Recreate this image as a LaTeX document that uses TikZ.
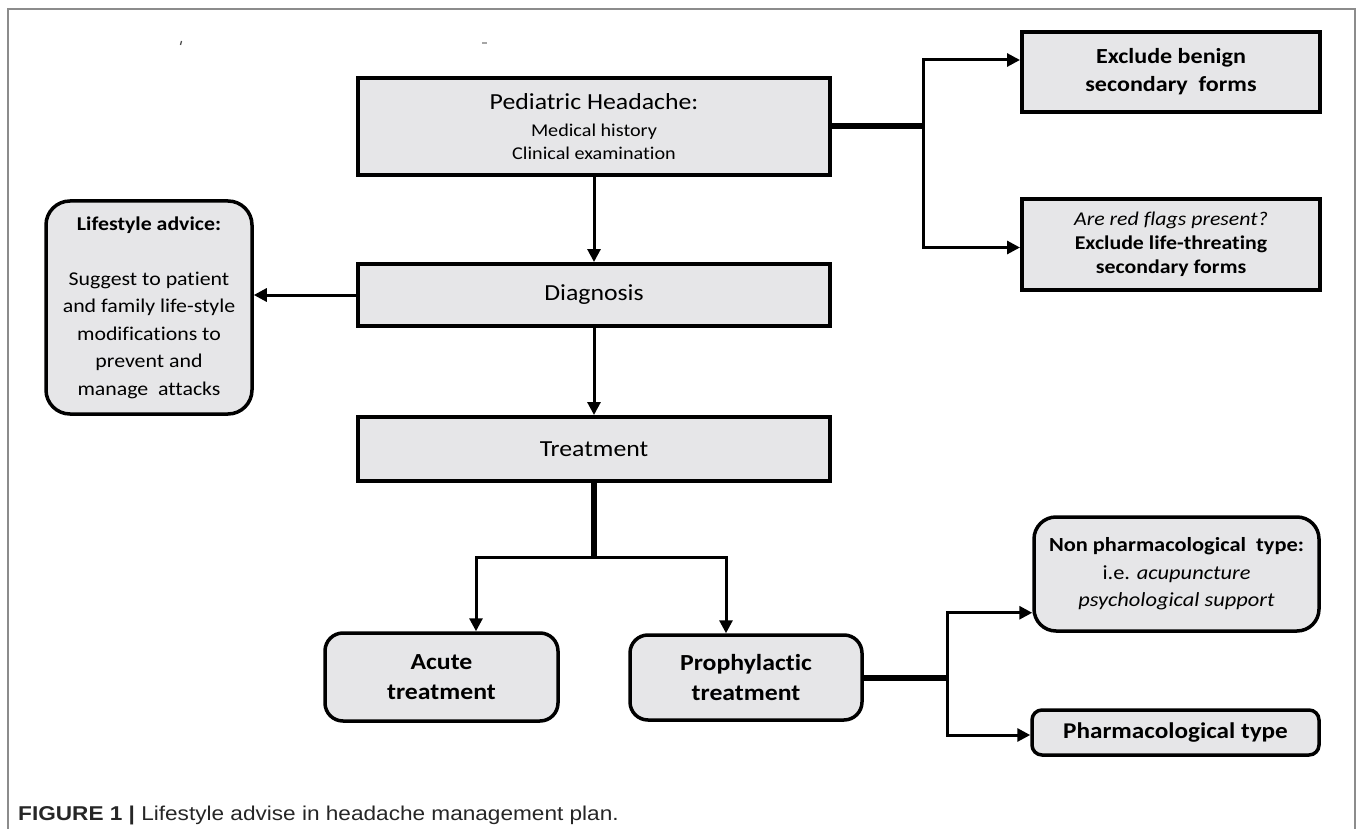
\documentclass[tikz,border=0pt]{standalone}
\usepackage{fontspec}
\setmainfont{Carlito}[FakeStretch=1.12, Ligatures={NoCommon}, RawFeature={-liga}]
\newfontfamily\capfont{Liberation Sans}[FakeStretch=1.13]
\usetikzlibrary{arrows.meta,calc}
\definecolor{boxfill}{RGB}{230,230,232}
\definecolor{framegray}{RGB}{140,140,140}
\tikzset{
  sqbox/.style={draw=black, line width=4pt, fill=boxfill, inner sep=0pt, align=center},
  rbox/.style={draw=black, line width=3.5pt, fill=boxfill, inner sep=0pt, align=center},
  conn/.style={draw=black, line width=3pt, -{Triangle[length=13pt,width=13pt]}},
  heavy/.style={draw=black, line width=6pt},
  fr/.style={draw=framegray, line width=1.5pt}
}
\begin{document}
\begin{tikzpicture}[x=1pt,y=-1pt]
\fill[white] (0,0) rectangle (1357,829);
\useasboundingbox (0,0) rectangle (1357,829);
% frame and stray marks
\draw[fr] (8,829) -- (8,9) -- (1355,9) -- (1355,829);
\draw[line width=1.3pt, black!70] (181.5,41) -- (180.5,45);
\draw[line width=1.2pt, black!35] (482,43) -- (487,43);

% boxes
\node[sqbox, minimum width=472pt, minimum height=97pt, font=\fontsize{18}{23}\selectfont] (ped) at (594,126.5)
  {{\fontsize{23}{27}\selectfont Pediatric Headache:}\\[4.5pt] Medical history\\ Clinical examination};
\node[sqbox, minimum width=472pt, minimum height=62pt, font=\fontsize{23}{27}\selectfont] (diag) at (594,295) {Diagnosis};
\node[sqbox, minimum width=472pt, minimum height=64pt, font=\fontsize{23}{27}\selectfont] (treat) at (594,449) {Treatment};
\node[rbox, rounded corners=24pt, minimum width=206pt, minimum height=213pt, font=\fontsize{19.5}{27.5}\selectfont] (life) at (149,307.5)
  {\textbf{Lifestyle advice:}\\[27.5pt] Suggest to patient\\ and family life-style\\ modifications to\\ prevent and\\ manage~ attacks};
\node[sqbox, minimum width=298pt, minimum height=80pt, font=\fontsize{21.5}{28}\selectfont\bfseries] (benign) at (1171,72)
  {Exclude benign\\ secondary~ forms};
\node[sqbox, minimum width=298pt, minimum height=91pt, font=\fontsize{19.5}{24}\selectfont] (redflag) at (1171,244.5)
  {\textit{Are red flags present?}\\ \textbf{Exclude life-threating}\\ \textbf{secondary forms}};
\node[rbox, rounded corners=18pt, minimum width=233pt, minimum height=88pt, font=\fontsize{23}{30}\selectfont\bfseries] (acute) at (441.5,677)
  {Acute\\ treatment};
\node[rbox, rounded corners=18pt, minimum width=232pt, minimum height=85pt, font=\fontsize{23}{30}\selectfont\bfseries] (proph) at (746,677.5)
  {Prophylactic\\ treatment};
\node[rbox, rounded corners=22pt, minimum width=285pt, minimum height=114pt, font=\fontsize{20}{27.5}\selectfont] (nonph) at (1176.5,574)
  {\textbf{Non pharmacological~ type:}\\ i.e. \textit{acupuncture}\\ \textit{psychological support}};
\node[rbox, rounded corners=10pt, minimum width=287pt, minimum height=45pt, font=\fontsize{22.5}{27}\selectfont\bfseries] (pharma) at (1175.5,732.5)
  {\raisebox{-3pt}{Pharmacological type}};

% caption
\node[anchor=west, inner sep=0pt, font=\capfont\fontsize{20}{23}\selectfont, text=black!85] (cap) at (18,815)
  {\textbf{FIGURE 1 |} Lifestyle advise in headache management plan.};

% connectors
\coordinate (j1) at (923,126.5);
\draw[heavy] (ped.east) -- (j1);
\draw[conn] (j1) |- ([yshift=12pt]benign.west);
\draw[conn] (j1) |- ([yshift=-3pt]redflag.west);
\draw[conn] (ped.south) -- (diag.north);
\draw[conn] (diag.west) -- (diag.west -| life.east);
\draw[conn] (diag.south) -- (treat.north);
\coordinate (j2) at (594,557);
\draw[heavy, line width=5.5pt] (treat.south) -- (j2);
\draw[conn] (j2) -| ([xshift=34.5pt]acute.north);
\draw[conn] (j2) -| ([xshift=-20pt]proph.north);
\coordinate (j3) at (947,677.5);
\draw[heavy] (proph.east) -- (j3);
\draw[conn] (j3) |- ([yshift=20pt]nonph.south west);
\draw[conn] (j3) |- ([yshift=-2.5pt]pharma.west);
\end{tikzpicture}
\end{document}
